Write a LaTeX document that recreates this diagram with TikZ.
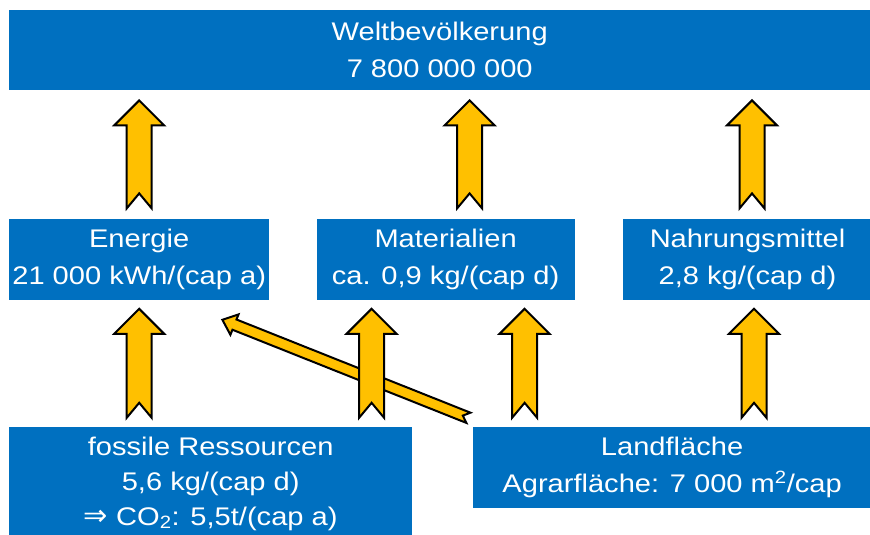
\documentclass[tikz,border=0pt]{standalone}
\usepackage{fontspec}
\setmainfont{Liberation Sans}[FakeStretch=1.14]
\newfontfamily\symbolfont{DejaVu Sans}
\usetikzlibrary{positioning,calc}
\definecolor{colorbox}  {RGB}{0  ,112,192}
\definecolor{colorarrow}{RGB}{255,192,0  }
\definecolor{colortext} {RGB}{255,255,255}

\begin{document}
\begin{tikzpicture}[
    x=1pt, y=1pt,
    font={\fontsize{25.5}{37}\selectfont},
    base/.style={text=colortext,fill=colorbox,align=center,rectangle,inner sep=0pt,minimum height=81pt},
    blockarrow/.style n args={4}{to path={
        ($(\tikztostart)!#1!90:(\tikztotarget)$)
        -- ($(\tikztostart)!#4!(\tikztotarget)$)
        -- ($(\tikztostart)!#1!-90:(\tikztotarget)$)
        -- ($(\tikztotarget)!#3!(\tikztostart)!#1!-90:(\tikztotarget)$)
        -- ($(\tikztotarget)!#3!(\tikztostart)!#2!-90:(\tikztotarget)$)
        -- (\tikztotarget)
        -- ($(\tikztotarget)!#3!(\tikztostart)!#2!90:(\tikztotarget)$)
        -- ($(\tikztotarget)!#3!(\tikztostart)!#1!90:(\tikztotarget)$)
        -- cycle}},
    fat/.style={draw=black,line width=2pt,fill=colorarrow,line join=miter,blockarrow={12.5pt}{25pt}{25pt}{15pt}},
    slim/.style={draw=black,line width=2pt,fill=colorarrow,line join=miter,blockarrow={5.5pt}{11pt}{13pt}{6pt}},
]
    \useasboundingbox (0,0) rectangle (870,-535);
    \clip (0,0) rectangle (870,-535);

    % Boxes
    \node[base,minimum width=861pt,minimum height=80pt,anchor=north west] (welt) at (9,-10) {Weltbevölkerung\\7 800 000 000};
    \node[base,minimum width=260pt,below=128pt of welt.south west,anchor=north west] (energie) {Energie\\21 000 kWh/(cap a)};
    \node[base,minimum width=258pt,right=47pt of energie] (material) {Materialien\\ca. 0,9 kg/(cap d)};
    \node[base,minimum width=249pt,right=48pt of material] (nahrung) {Nahrungsmittel\\2,8 kg/(cap d)};
    \node[base,minimum width=403pt,minimum height=113pt,font={\fontsize{25.5}{35}\selectfont},below=127pt of energie.south west,anchor=north west] (fossil) {fossile Ressourcen\\5,6 kg/(cap d)\\{\symbolfont\fontsize{29}{35}\selectfont ⇒} CO\textsubscript{2}: 5,5t/(cap a)};
    \node[base,minimum width=399pt,right=60pt of fossil.north east,anchor=north west] (land) {Landfläche\\Agrarfläche: 7 000 m\textsuperscript{2}/cap};

    % Arrow from Landfläche to Energie
    \draw[slim] ([xshift=-4pt,yshift=9pt]land.north west) to ([xshift=-47pt,yshift=-20pt]energie.south east);

    % Arrows from resources
    \draw[fat] ([yshift=9pt]energie.south |- fossil.north) to ([yshift=-9pt]energie.south);
    \draw[fat] ([xshift=-74pt,yshift=9pt]material.south |- fossil.north) to ([xshift=-74pt,yshift=-9pt]material.south);
    \draw[fat] ([xshift=79pt,yshift=9pt]material.south |- land.north) to ([xshift=79pt,yshift=-9pt]material.south);
    \draw[fat] ([xshift=6.5pt,yshift=9pt]nahrung.south |- land.north) to ([xshift=6.5pt,yshift=-9pt]nahrung.south);

    % Arrows to Weltbevoelkerung
    \draw[fat] ([yshift=10pt]energie.north) to ([yshift=-10pt]energie.north |- welt.south);
    \draw[fat] ([xshift=24pt,yshift=10pt]material.north) to ([xshift=24pt,yshift=-10pt]material.north |- welt.south);
    \draw[fat] ([xshift=4.5pt,yshift=10pt]nahrung.north) to ([xshift=4.5pt,yshift=-10pt]nahrung.north |- welt.south);
\end{tikzpicture}
\end{document}
